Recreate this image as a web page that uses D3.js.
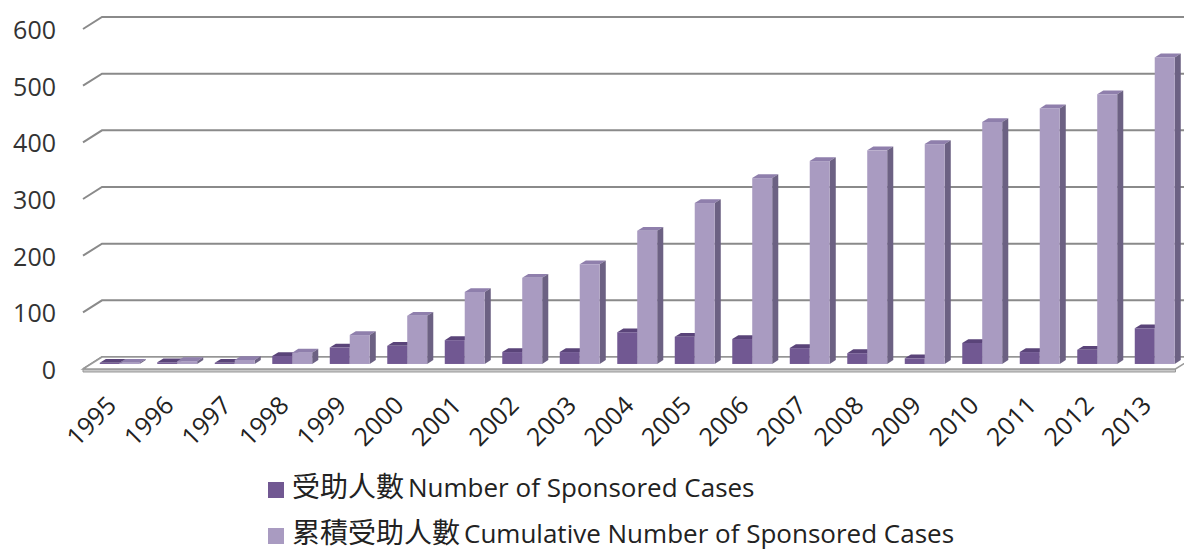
<!DOCTYPE html>
<html>
<head>
<meta charset="utf-8">
<script src="https://cdn.jsdelivr.net/npm/d3@7"></script>
<style>
  body { margin: 0; background: #fff; }
  svg { display: block; }
</style>
</head>
<body>
<svg id="chart"></svg>
<script>
// Data
const years = ['1995', '1996', '1997', '1998', '1999', '2000', '2001', '2002', '2003', '2004',
               '2005', '2006', '2007', '2008', '2009', '2010', '2011', '2012', '2013'];
const sponsored = [2, 3, 2, 14, 29, 32, 42, 21, 21, 56, 48, 44, 28, 19, 10, 37, 21, 25, 63];
const cumulative = [2, 5, 7, 20, 51, 85, 127, 152, 176, 235, 284, 328, 358, 377, 388, 427, 451, 476, 541];
const yTicks = [0, 100, 200, 300, 400, 500, 600];
const seriesNames = ['受助人數', '累積受助人數'];
const seriesLatin = ['Number of Sponsored Cases', 'Cumulative Number of Sponsored Cases'];

const width = 1184;
const height = 550;

// 3D look: the back wall is shifted by DX, DY from the front edge
const DX = 19, DY = -12;
const front0 = 83;
const bandW = 57.5;

const svg = d3.select('#chart')
    .attr('width', width)
    .attr('height', height);

const y = d3.scaleLinear().domain([0, 600]).range([369, 29]);

const x0 = d3.scaleBand()
    .domain(years)
    .range([front0, front0 + bandW * years.length])
    .padding(0);

const x1 = d3.scaleBand()
    .domain(['a', 'b'])
    .range([0, x0.bandwidth()])
    .paddingInner(0)
    .paddingOuter(0.44);

// project a point at depth t (0 = front, 1 = back wall)
function proj(x, v, t) {
    return [x + t * DX, y(v) + t * DY];
}

const plotRight = front0 + bandW * years.length;

// back wall grid lines + left wall stubs
const grid = svg.append('g');
yTicks.forEach(v => {
    const a = proj(front0, v, 0), b = proj(front0, v, 1), c = proj(plotRight + 40, v, 1);
    grid.append('path')
        .attr('d', `M${a[0]},${a[1]}L${b[0]},${b[1]}L${c[0]},${c[1]}`)
        .attr('fill', 'none')
        .attr('stroke', '#8a8a8a')
        .attr('stroke-width', 2);
});

// floor plate
const fl = [proj(front0, 0, 0), proj(plotRight, 0, 0), proj(plotRight, 0, 1), proj(front0, 0, 1)];
svg.append('path')
    .attr('d', `M${fl[0]}L${fl[1]}l0,3L${fl[0][0]},${fl[0][1] + 3}Z`)
    .attr('fill', '#c8c8c8')
    .attr('stroke', '#999')
    .attr('stroke-width', 1);
svg.append('path')
    .attr('d', 'M' + fl.join('L') + 'Z')
    .attr('fill', '#fff')
    .attr('stroke', '#999')
    .attr('stroke-width', 1.5);

// bars
const colors = [
    { front: '#715892', top: '#5a4479', side: '#4f3f67' },
    { front: '#a99bc1', top: '#8f7fac', side: '#6c6183' }
];
const t1 = 0.42, t2 = 0.74;

function drawBar(g, bx, w, v, col) {
    const fTL = proj(bx, v, t1), fBR = proj(bx + w, 0, t1);
    // top face
    const top = [proj(bx, v, t1), proj(bx + w, v, t1), proj(bx + w, v, t2), proj(bx, v, t2)];
    g.append('path').attr('d', 'M' + top.join('L') + 'Z').attr('fill', col.top);
    // side face
    const side = [proj(bx + w, 0, t1), proj(bx + w, v, t1), proj(bx + w, v, t2), proj(bx + w, 0, t2)];
    g.append('path').attr('d', 'M' + side.join('L') + 'Z').attr('fill', col.side);
    // front face
    g.append('rect')
        .attr('x', fTL[0])
        .attr('y', fTL[1])
        .attr('width', w)
        .attr('height', Math.max(0, fBR[1] - fTL[1]))
        .attr('fill', col.front);
}

const bars = svg.append('g');
years.forEach((yr, i) => {
    const g = bars.append('g');
    drawBar(g, x0(yr) + x1('a'), x1.bandwidth(), sponsored[i], colors[0]);
    drawBar(g, x0(yr) + x1('b'), x1.bandwidth(), cumulative[i], colors[1]);
});

// y axis labels
svg.append('g')
    .selectAll('text')
    .data(yTicks)
    .join('text')
    .attr('x', 56)
    .attr('y', d => y(d) + 10)
    .attr('text-anchor', 'end')
    .style('font-family', '"Open Sans", sans-serif')
    .style('font-size', '25px')
    .style('fill', '#333')
    .text(d => d);

// x axis labels, rotated
svg.append('g')
    .selectAll('text')
    .data(years)
    .join('text')
    .attr('transform', d => `translate(${x0(d) + x0.bandwidth() / 2 + 6},407) rotate(-45)`)
    .attr('text-anchor', 'end')
    .style('font-family', '"Open Sans", sans-serif')
    .style('font-size', '25px')
    .style('fill', '#222')
    .text(d => d);

// legend
const legend = svg.append('g').attr('transform', 'translate(268,0)');
[0, 1].forEach(i => {
    const base = 497 + i * 46;
    legend.append('rect')
        .attr('x', 0)
        .attr('y', base - 15)
        .attr('width', 16)
        .attr('height', 16)
        .attr('fill', colors[i].front);
    const t = legend.append('text')
        .attr('x', 24)
        .attr('y', base)
        .style('font-family', '"Open Sans", "Noto Sans CJK TC", sans-serif')
        .style('font-size', '26px')
        .style('fill', '#222');
    t.append('tspan')
        .style('font-family', '"Noto Sans CJK TC", sans-serif')
        .style('font-size', '28px')
        .text(seriesNames[i]);
    t.append('tspan').attr('dx', 4).text(seriesLatin[i]);
});
</script>
</body>
</html>
